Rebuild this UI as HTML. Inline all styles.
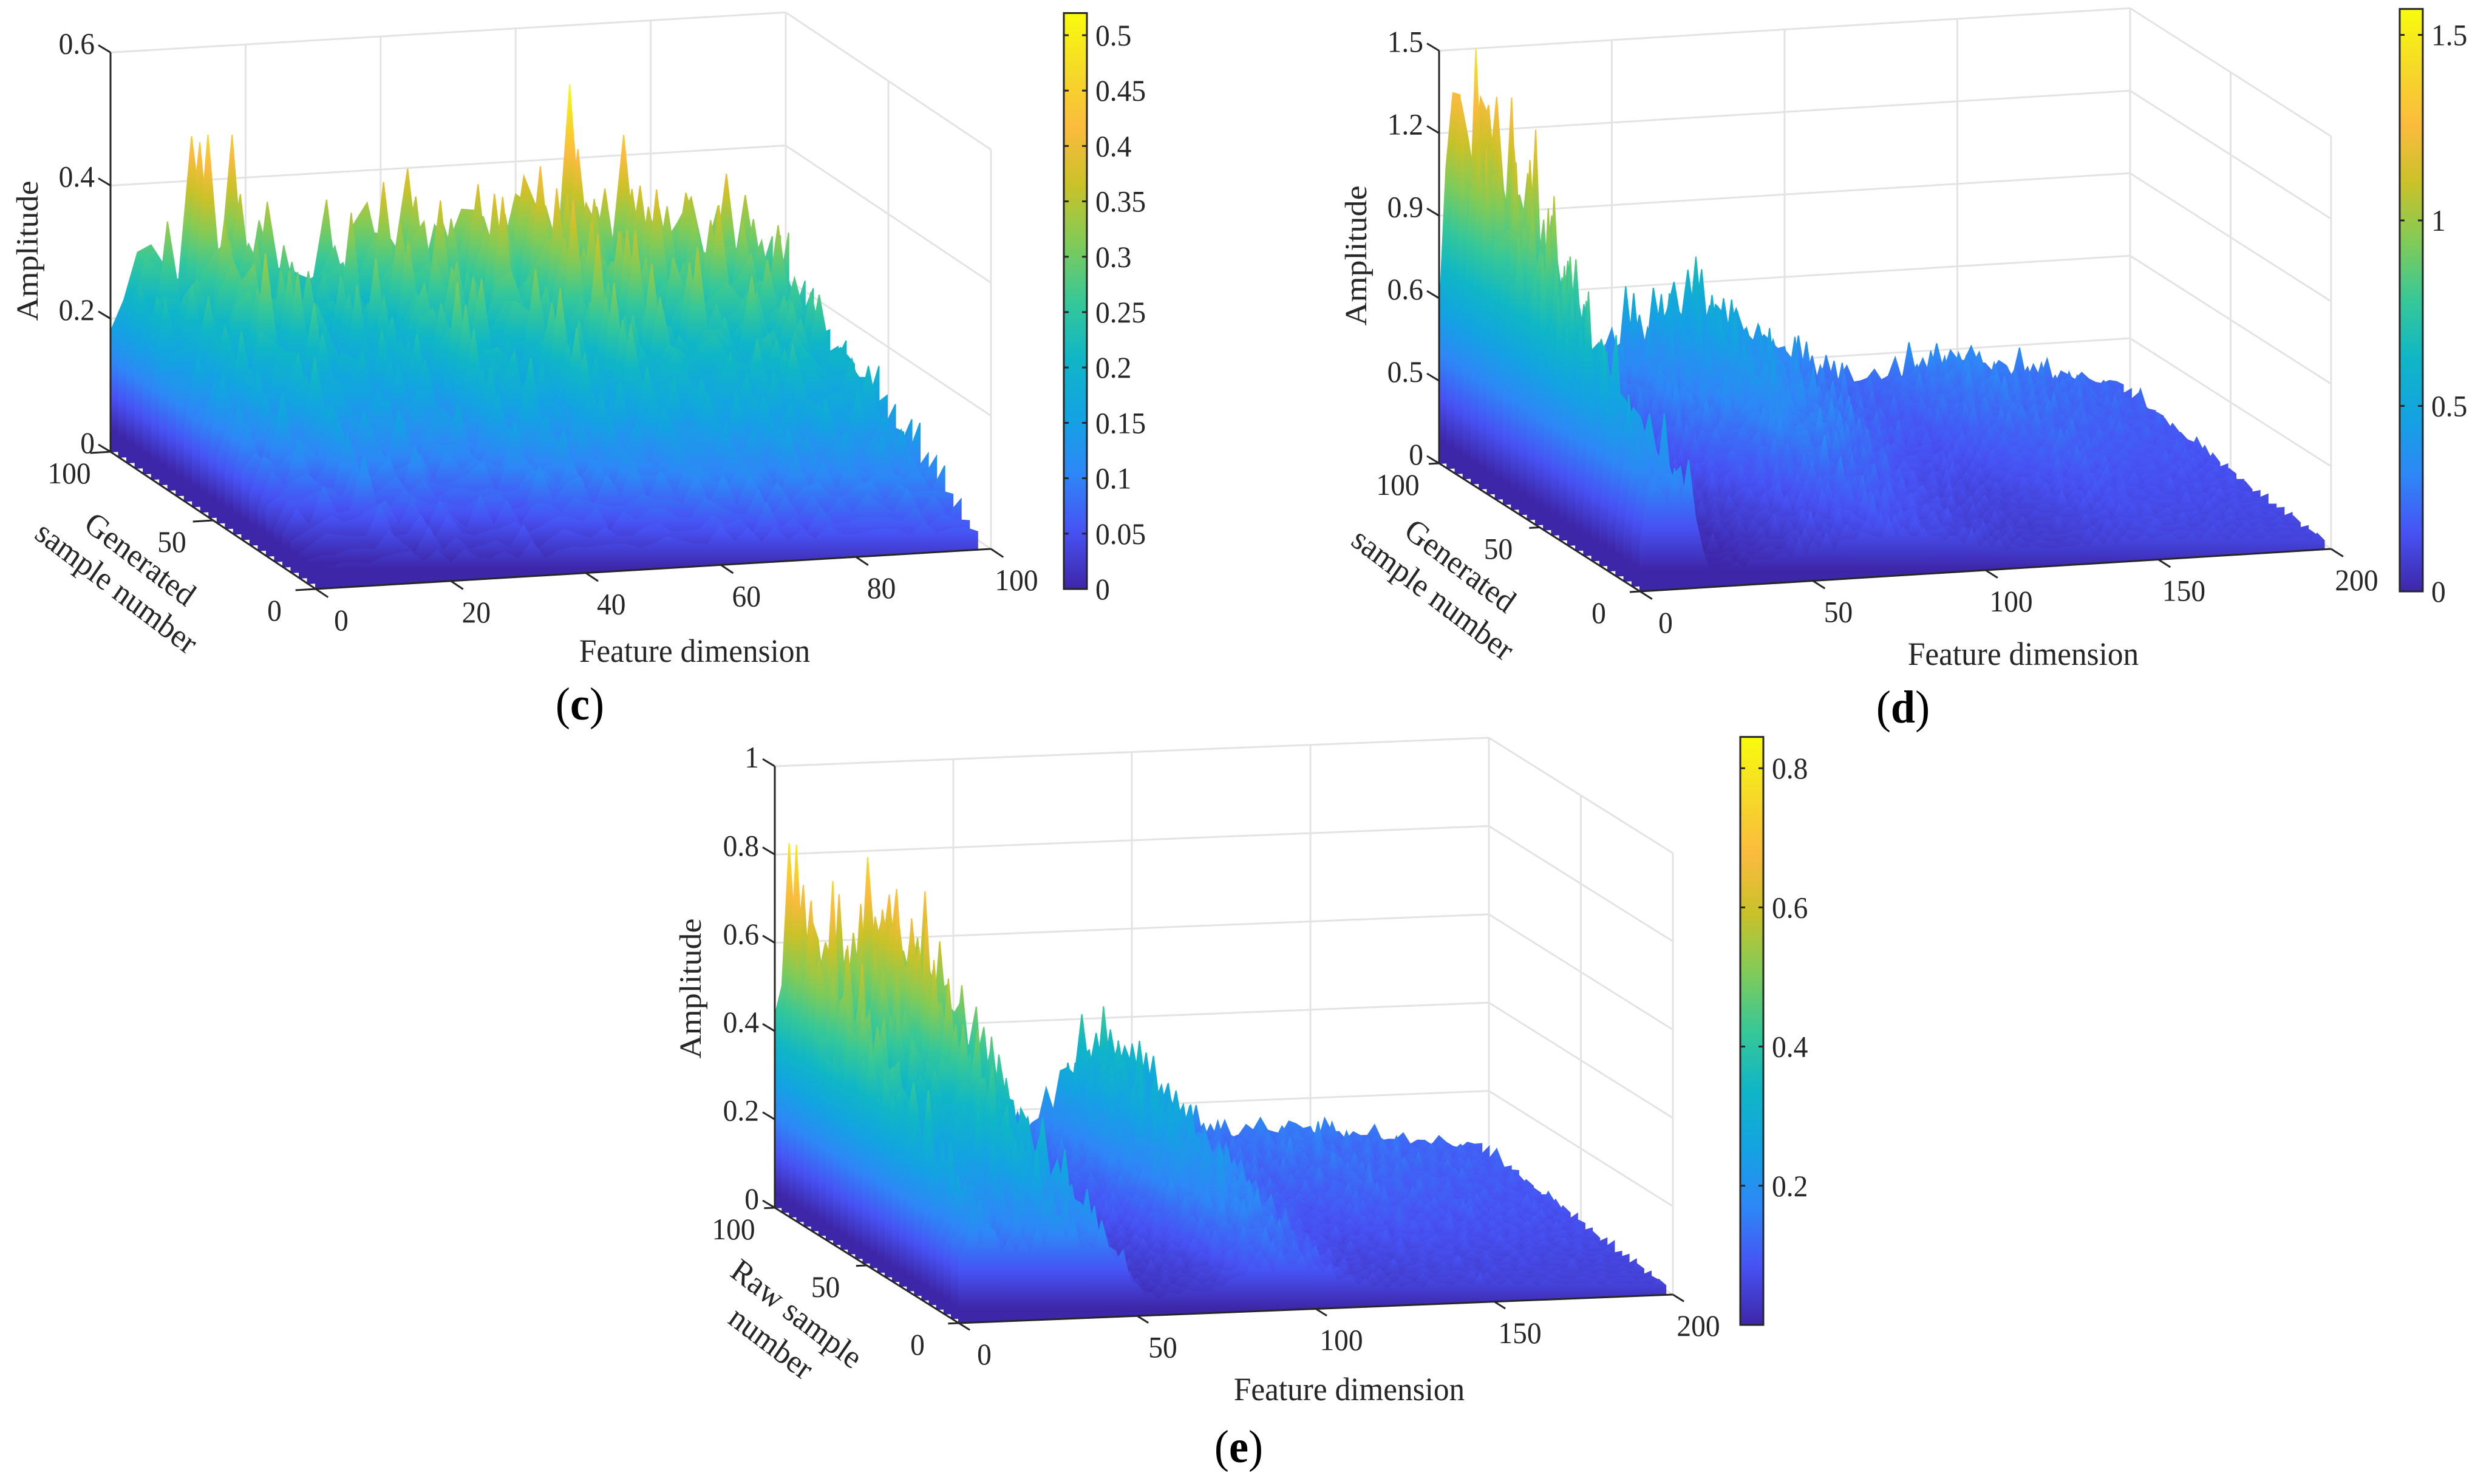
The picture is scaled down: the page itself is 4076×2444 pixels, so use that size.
<!DOCTYPE html>
<html><head><meta charset="utf-8"><title>Surface plots</title>
<style>html,body{margin:0;padding:0;background:#fff}svg{display:block}</style></head>
<body>
<svg id="fig" width="4076" height="2444" viewBox="0 0 4076 2444" xmlns="http://www.w3.org/2000/svg" font-family="'Liberation Serif', serif">
<defs id="defs"></defs>
</svg>
<script>
// ---- data ----
const rowsY = [100,96,92,88,84,80,76,72,68,64,60,56,52,48,44,40,36,32,28,24,20,16,12,8,4,0];
const cFeatX = [0,2,4,6,8,10,12,14,16,18,20,22,24,26,28,30,32,34,36,38,40,42,44,46,48,50,52,54,56,58,60,62,64,66,68,70,72,74,76,78,80,82,84,86,88,90,92,94,96,98];
const cProfile = [0.2,0.30,0.27,0.38,0.29,0.33,0.46,0.35,0.30,0.41,0.28,0.36,0.31,0.25,0.34,0.27,0.37,0.24,0.30,0.43,0.29,0.35,0.40,0.27,0.33,0.31,0.44,0.30,0.36,0.28,0.48,0.33,0.39,0.29,0.45,0.31,0.35,0.28,0.41,0.30,0.34,0.27,0.38,0.31,0.29,0.35,0.26,0.33,0.24,0.28];
const cRowScale = [0.86,0.83,0.8,0.77,0.75,0.72,0.7,0.67,0.64,0.62,0.59,0.57,0.54,0.51,0.48,0.45,0.43,0.4,0.36,0.33,0.29,0.26,0.22,0.18,0.14,0.11];
const dFeatX = [0,2,4,6,8,10,12,14,16,18,20,22,24,26,28,30,32,34,36,38,40,42,44,46,48,50,52,54,56,58,60,62,64,66,68,70,72,74,76,78,80,82,84,86,88,90,92,94,96,98,100,102,104,106,108,110,112,114,116,118,120,122,124,126,128,130,132,134,136,138,140,142,144,146,148,150,152,154,156,158,160,162,164,166,168,170,172,174,176,178,180,182,184,186,188,190,192,194,196,198];
const dProfile = [0.5,1.22,1.05,1.42,1.0,1.3,1.12,1.26,0.9,0.45,0.22,0.18,0.25,0.2,0.27,0.21,0.24,0.3,0.26,0.33,0.29,0.36,0.31,0.4,0.35,0.43,0.38,0.47,0.4,0.45,0.42,0.5,0.44,0.55,0.46,0.52,0.6,0.48,0.53,0.45,0.5,0.43,0.48,0.4,0.44,0.37,0.41,0.34,0.38,0.31,0.33,0.27,0.3,0.24,0.28,0.22,0.26,0.21,0.24,0.2,0.23,0.19,0.22,0.2,0.24,0.21,0.25,0.22,0.27,0.23,0.26,0.24,0.28,0.23,0.27,0.25,0.29,0.24,0.26,0.22,0.25,0.21,0.23,0.2,0.22,0.19,0.21,0.18,0.2,0.17,0.19,0.16,0.18,0.15,0.17,0.14,0.16,0.13,0.15,0.12];
const dRowScale = [1.0,0.96,0.92,0.88,0.85,0.82,0.79,0.76,0.73,0.7,0.67,0.64,0.61,0.58,0.55,0.52,0.49,0.46,0.44,0.42,0.4,0.38,0.36,0.34,0.32,0.3];
const eFeatX = dFeatX;
const eProfile = [0.45,0.62,0.7,0.66,0.72,0.6,0.55,0.5,0.52,0.58,0.56,0.62,0.55,0.7,0.74,0.68,0.6,0.55,0.5,0.58,0.62,0.52,0.45,0.38,0.3,0.22,0.16,0.14,0.13,0.15,0.14,0.16,0.15,0.17,0.16,0.18,0.17,0.2,0.22,0.25,0.3,0.28,0.33,0.36,0.32,0.38,0.34,0.35,0.31,0.33,0.3,0.28,0.27,0.24,0.22,0.2,0.18,0.17,0.15,0.16,0.14,0.15,0.13,0.14,0.15,0.13,0.14,0.16,0.14,0.15,0.13,0.15,0.14,0.16,0.13,0.14,0.12,0.13,0.14,0.12,0.13,0.11,0.12,0.13,0.11,0.12,0.1,0.11,0.1,0.11,0.1,0.09,0.1,0.09,0.1,0.08,0.09,0.08,0.09,0.08];
const eRowScale = [0.92,0.9,0.87,0.85,0.82,0.8,0.77,0.75,0.72,0.7,0.67,0.64,0.62,0.59,0.56,0.54,0.51,0.48,0.46,0.43,0.4,0.38,0.36,0.34,0.32,0.3];
const spikeJitter = [0.05,-0.12,0.28,-0.06,0.1,-0.15,0.18,0,-0.08,0.32,-0.12,0.08,-0.03,0.22,-0.15,0.03,0.13,-0.1,0.24,-0.05,0.05,-0.12,0.16,-0.03,0.1];
const rowShift = [0,7,3,11,5,17,2,13,9,21,4,15,8,19,1,12,6,23,10,16,14,3,20,7,18,11];
const cXTicks = [0,20,40,60,80,100];
const dXTicks = [0,50,100,150,200];
const eXTicks = [0,50,100,150,200];
const yTicks = [0,50,100];
const cZTicks = [0,0.2,0.4,0.6];
const cZLabels = ["0","0.2","0.4","0.6"];
const dZTicks = [0,0.3,0.6,0.9,1.2,1.5];
const dZLabels = ["0","0.5","0.6","0.9","1.2","1.5"];
const eZTicks = [0,0.2,0.4,0.6,0.8,1];
const eZLabels = ["0","0.2","0.4","0.6","0.8","1"];
const cCbTicks = [0,0.05,0.1,0.15,0.2,0.25,0.3,0.35,0.4,0.45,0.5];
const cCbLabels = ["0","0.05","0.1","0.15","0.2","0.25","0.3","0.35","0.4","0.45","0.5"];
const dCbTicks = [0,0.5,1,1.5];
const dCbLabels = ["0","0.5","1","1.5"];
const eCbTicks = [0.2,0.4,0.6,0.8];
const eCbLabels = ["0.2","0.4","0.6","0.8"];

const NS = "http://www.w3.org/2000/svg";
const svg = document.getElementById('fig');
const defs = document.getElementById('defs');
const parula = [[0,'#3e26a8'],[0.1,'#4752f4'],[0.2,'#2e87f7'],[0.3,'#13a3e2'],[0.4,'#0fb6c6'],[0.5,'#37c897'],[0.6,'#80cb58'],[0.7,'#c9c229'],[0.8,'#fbbb3d'],[0.9,'#f5da27'],[1,'#f9fb0e']];
const SQ = 0.95;
let gid = 0;
function mk(tag, attrs, parent){const e=document.createElementNS(NS,tag);for(const k in attrs)e.setAttribute(k,attrs[k]);(parent||svg).appendChild(e);return e;}
function grad(y1,y2){
  const id='g'+(gid++);
  const g=mk('linearGradient',{id:id,gradientUnits:'userSpaceOnUse',x1:0,x2:0,y1:y1,y2:y2},defs);
  parula.forEach(s=>mk('stop',{offset:s[0],'stop-color':s[1]},g));
  return id;
}
function txt(parent,str,x,y,size,anchor,rot){
  const t=mk('text',{transform:`translate(${x},${y}) scale(${SQ},1) rotate(${rot||0})`,'font-size':size,'text-anchor':anchor||'middle',fill:'#262626'},parent);
  t.textContent=str;return t;
}

function panel(cfg){
  const g=mk('g',{});
  
  
  const P=(x,y,z)=>[cfg.O[0]+x*cfg.ex[0]+y*cfg.ey[0], cfg.O[1]+x*cfg.ex[1]+y*cfg.ey[1]-z*cfg.ez];
  const line=(a,b,col,w,nm)=>{const l=mk('line',{x1:a[0],y1:a[1],x2:b[0],y2:b[1],stroke:col,'stroke-width':w},g);return l;};
  const XM=cfg.xmax, YM=100, ZM=cfg.zmax;
  cfg.xticks.forEach(x=>{line(P(x,YM,0),P(x,YM,ZM),'#e3e3e3',3,'grid-line');line(P(x,0,0),P(x,YM,0),'#ececec',3,'grid-line');});
  cfg.zticks.forEach(z=>{line(P(0,YM,z),P(XM,YM,z),'#e3e3e3',3,'grid-line');line(P(XM,YM,z),P(XM,0,z),'#e3e3e3',3,'grid-line');});
  yTicks.forEach(y=>{line(P(XM,y,0),P(XM,y,ZM),'#e3e3e3',3,'grid-line');line(P(0,y,0),P(XM,y,0),'#ececec',3,'grid-line');});
  const surf=mk('g',{},g);
  
  
  const nJ=spikeJitter.length;
  rowsY.forEach((y,j)=>{
    const pts=[];
    cfg.featX.forEach((x,i)=>{
      const jit=spikeJitter[(i+rowShift[j])%nJ];
      pts.push(P(x,y,cfg.profile[i]*cfg.rowScale[j]*(1+jit)));
    });
    const xl=cfg.featX[cfg.featX.length-1];
    pts.push(P(xl,y,0));pts.push(P(cfg.featX[0],y,0));
    const base=P(XM/2,y,0)[1];
    const id=grad(base,base-cfg.cmax*cfg.ez);
    const p=mk('polygon',{points:pts.map(q=>q[0].toFixed(1)+','+q[1].toFixed(1)).join(' '),fill:`url(#${id})`,stroke:`url(#${id})`,'stroke-width':2},surf);
    
    
  });
  line(P(0,YM,0),P(0,YM,ZM),'#262626',3,'z-axis-line');
  line(P(0,0,0),P(0,YM,0),'#262626',3,'y-axis-line');
  line(P(0,0,0),P(XM,0,0),'#262626',3,'x-axis-line');
  cfg.xticks.forEach(x=>{line(P(x,0,0),P(x,-6,0),'#262626',3,'x-tick');const q=P(x,0,0);txt(g,String(x),q[0]+42,q[1]+68,50,'middle');});
  yTicks.forEach(y=>{line(P(0,y,0),P(-3,y,0),'#262626',3,'y-tick');const q=P(0,y,0);txt(g,String(y),q[0]-68,q[1]+52,50,'middle');});
  cfg.zticks.forEach((z,k)=>{const q=P(0,YM,z);line(q,[q[0]-20,q[1]-12],'#262626',3,'z-tick');txt(g,cfg.zlabels[k],q[0]-26,q[1]+2,50,'end');});
  txt(g,'Amplitude',cfg.ampPos[0],cfg.ampPos[1],54,'middle',-90);
  txt(g,'Feature dimension',cfg.featPos[0],cfg.featPos[1],54,'middle');
  cfg.ylab.forEach(l=>{txt(g,l[0],l[1],l[2],54,'middle',36);});
  const cb=mk('g',{},g);
  
  
  const cid=grad(cfg.cb.y0,cfg.cb.y0-cfg.cmax*cfg.cb.k);
  mk('rect',{x:cfg.cb.x,y:cfg.cb.y0-cfg.cmax*cfg.cb.k,width:38,height:cfg.cmax*cfg.cb.k,fill:`url(#${cid})`,stroke:'#262626','stroke-width':3},cb);
  cfg.cbticks.forEach((v,k)=>{const yy=cfg.cb.y0-v*cfg.cb.k;
    mk('line',{x1:cfg.cb.x+30,x2:cfg.cb.x+38,y1:yy,y2:yy,stroke:'#262626','stroke-width':3},cb);
    mk('line',{x1:cfg.cb.x,x2:cfg.cb.x+8,y1:yy,y2:yy,stroke:'#262626','stroke-width':3},cb);
    txt(cb,cfg.cblabels[k],cfg.cb.x+52,yy+17,50,'start');});
  const t=mk('text',{transform:`translate(${cfg.cap[0]},${cfg.cap[1]}) scale(${SQ},1)`,'font-size':76,'text-anchor':'middle',fill:'#000'},g);
  
  
  const b1=mk('tspan',{},t);b1.textContent='(';
  const b2=mk('tspan',{'font-weight':'bold'},t);b2.textContent=cfg.letter;
  const b3=mk('tspan',{},t);b3.textContent=')';
}

panel({name:'panel-c',O:[520,970],ex:[11.12,-0.66],ey:[-3.38,-2.26],ez:1096,xmax:100,zmax:0.6,cmax:0.52,
  featX:cFeatX,profile:cProfile,rowScale:cRowScale,xticks:cXTicks,zticks:cZTicks,zlabels:cZLabels,
  cb:{x:1752,y0:970,k:1824},cbticks:cCbTicks,cblabels:cCbLabels,
  ampPos:[62,413],featPos:[1144,1090],ylab:[['Generated',221,935],['sample number',182,982]],cap:[955,1185],letter:'c'});
panel({name:'panel-d',O:[2701,974],ex:[5.69,-0.35],ey:[-3.31,-2.11],ez:453,xmax:200,zmax:1.5,cmax:1.57,
  featX:dFeatX,profile:dProfile,rowScale:dRowScale,xticks:dXTicks,zticks:dZTicks,zlabels:dZLabels,
  cb:{x:3952,y0:974,k:611},cbticks:dCbTicks,cblabels:dCbLabels,
  ampPos:[2250,421],featPos:[3332,1095],ylab:[['Generated',2395,946],['sample number',2350,993]],cap:[3134,1190],letter:'d'});
panel({name:'panel-e',O:[1579,2179],ex:[5.88,-0.235],ey:[-3.03,-1.9],ez:727,xmax:200,zmax:1,cmax:0.845,
  featX:eFeatX,profile:eProfile,rowScale:eRowScale,xticks:eXTicks,zticks:eZTicks,zlabels:eZLabels,
  cb:{x:2866,y0:2182,k:1146},cbticks:eCbTicks,cblabels:eCbLabels,
  ampPos:[1154,1628],featPos:[2222,2306],ylab:[['Raw sample',1302,2178],['number',1260,2226]],cap:[2040,2408],letter:'e'});
</script>
</body></html>
